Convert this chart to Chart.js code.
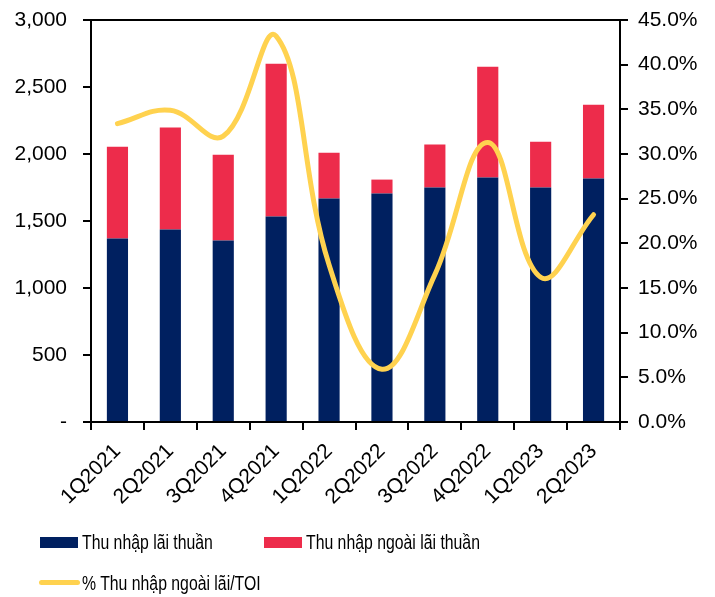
<!DOCTYPE html>
<html>
<head>
<meta charset="utf-8">
<script src="https://cdn.jsdelivr.net/npm/chart.js@4.4.1/dist/chart.umd.min.js"></script>
<style>
  body { margin: 0; background: #fff; }
  #wrap { position: relative; width: 715px; height: 597px; }
  #legend { position: absolute; left: 0; top: 0; width: 715px; height: 597px; pointer-events: none;
            font-family: "Liberation Sans", Arial, sans-serif; font-size: 20px; color: #000; }
  .item { position: absolute; white-space: nowrap; transform: scaleX(0.79); transform-origin: 0 0; }
  .box { position: absolute; width: 38px; height: 11px; }
  .ln { position: absolute; width: 41px; height: 5px; border-radius: 3px; }
</style>
</head>
<body>
<div id="wrap">
  <canvas id="chart" width="715" height="597"></canvas>
  <div id="legend">
    <div class="box" style="left:40px;top:537px;background:#002060"></div>
    <div class="item" style="left:82px;top:531px">Thu nhập lãi thuần</div>
    <div class="box" style="left:264px;top:537px;background:#ED2C4B"></div>
    <div class="item" style="left:306px;top:531px">Thu nhập ngoài lãi thuần</div>
    <div class="ln" style="left:39px;top:580px;background:#FFD24F"></div>
    <div class="item" style="left:82px;top:572px">% Thu nhập ngoài lãi/TOI</div>
  </div>
</div>
<script>
// Data
const quarters = ['1Q2021', '2Q2021', '3Q2021', '4Q2021', '1Q2022', '2Q2022', '3Q2022', '4Q2022', '1Q2023', '2Q2023'];
const netInterest = [1370, 1437, 1355, 1534, 1668, 1705, 1750, 1824, 1750, 1817];
const nonInterest = [685, 760, 640, 1139, 342, 104, 320, 827, 342, 551];
const nonInterestPct = [33.4, 34.9, 32.0, 43.2, 17.6, 5.9, 16.5, 31.3, 16.2, 23.2];

Chart.defaults.font.family = '"Liberation Sans", Arial, sans-serif';
Chart.defaults.color = '#000';

// draws the top border of the plot box
const topBorder = {
    id: 'topBorder',
    afterDraw(chart) {
        const a = chart.chartArea;
        const c = chart.ctx;
        c.save();
        c.strokeStyle = '#000';
        c.lineWidth = 2;
        c.beginPath();
        c.moveTo(a.left - 1, a.top);
        c.lineTo(a.right + 1, a.top);
        c.stroke();
        c.restore();
    }
};

// keep the vertical axes from pushing the plot box down
function fixY(width) {
    return s => {
        s.width = width;
        s.paddingTop = 10;
        s.paddingBottom = 10;
    };
}

const ctx = document.getElementById('chart').getContext('2d');

new Chart(ctx, {
    type: 'bar',
    data: {
        labels: quarters,
        datasets: [
            {
                type: 'line',
                label: '% Thu nhập ngoài lãi/TOI',
                data: nonInterestPct,
                yAxisID: 'y2',
                borderColor: '#FFD24F',
                borderWidth: 5,
                tension: 0.4,
                pointRadius: 0,
                borderCapStyle: 'round',
                order: 0
            },
            {
                label: 'Thu nhập lãi thuần',
                data: netInterest,
                backgroundColor: '#002060',
                stack: 's',
                barPercentage: 0.4,
                categoryPercentage: 1,
                order: 1
            },
            {
                label: 'Thu nhập ngoài lãi thuần',
                data: nonInterest,
                backgroundColor: '#ED2C4B',
                stack: 's',
                barPercentage: 0.4,
                categoryPercentage: 1,
                order: 1
            }
        ]
    },
    options: {
        responsive: false,
        animation: false,
        layout: { padding: { top: 20 } },
        plugins: {
            legend: { display: false },
            tooltip: { enabled: false }
        },
        scales: {
            x: {
                stacked: true,
                afterFit: s => { s.height = 175; },
                grid: { drawOnChartArea: false, color: '#000', lineWidth: 2, tickLength: 8 },
                border: { color: '#000', width: 2 },
                ticks: { font: { size: 21 }, maxRotation: 45, minRotation: 45, padding: 9 }
            },
            y: {
                stacked: true,
                position: 'left',
                min: 0,
                max: 3000,
                afterFit: fixY(91),
                grid: { drawOnChartArea: false, color: '#000', lineWidth: 2, tickLength: 8 },
                border: { color: '#000', width: 2 },
                ticks: {
                    stepSize: 500,
                    font: { size: 21 },
                    padding: 16,
                    callback: v => v === 0 ? '-' : v.toLocaleString('en-US')
                }
            },
            y2: {
                position: 'right',
                min: 0,
                max: 45,
                afterFit: fixY(95),
                grid: { drawOnChartArea: false, color: '#000', lineWidth: 2, tickLength: 8 },
                border: { color: '#000', width: 2 },
                ticks: {
                    stepSize: 5,
                    font: { size: 21 },
                    padding: 10,
                    callback: v => v.toFixed(1) + '%'
                }
            }
        }
    },
    plugins: [topBorder]
});
</script>
</body>
</html>
